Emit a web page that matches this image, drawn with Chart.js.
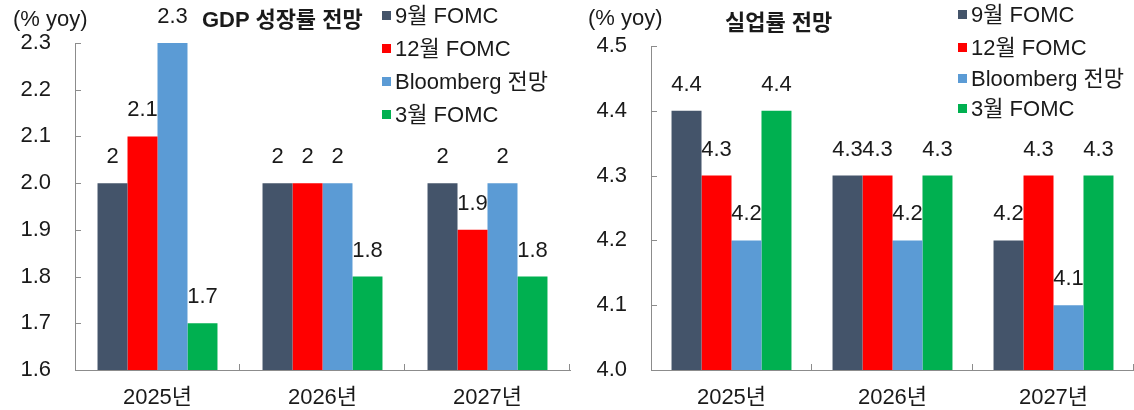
<!DOCTYPE html>
<html>
<head>
<meta charset="utf-8">
<script src="https://cdn.jsdelivr.net/npm/chart.js@4/dist/chart.umd.min.js"></script>
<style>
  html, body { margin: 0; padding: 0; background: #fff; }
  body { width: 1134px; height: 410px; position: relative; overflow: hidden;
         font-family: "Liberation Sans", "Noto Sans CJK KR", sans-serif; color: #1a1a1a; }
  canvas { position: absolute; top: 0; }
  .txt { position: absolute; font-size: 22px; line-height: 22px; white-space: nowrap; }
  .title { font-weight: bold; }
  .leg { position: absolute; font-size: 22px; line-height: 22px; white-space: nowrap; color: #1a1a1a; }
  .leg i { display: inline-block; width: 9px; height: 9px; margin-right: 4px; vertical-align: 3px; }
</style>
</head>
<body>
<canvas id="c1" width="580" height="410" style="left:0px"></canvas>
<canvas id="c2" width="554" height="410" style="left:580px"></canvas>

<div class="txt" style="left:13px; top:8px;">(% yoy)</div>
<div class="txt title" style="left:202px; top:9px;">GDP 성장률 전망</div>
<div class="txt" style="left:588px; top:7px;">(% yoy)</div>
<div class="txt title" style="left:725px; top:12px;">실업률 전망</div>
<div id="leg1"></div>
<div id="leg2"></div>

<script>
// ---- Data ----
const categories = ['2025년', '2026년', '2027년'];
const seriesNames = ['9월 FOMC', '12월 FOMC', 'Bloomberg 전망', '3월 FOMC'];
const seriesColors = ['#44546A', '#FF0000', '#5B9BD5', '#00B050'];

const gdpSepFomc = [2.0, 2.0, 2.0];
const gdpDecFomc = [2.1, 2.0, 1.9];
const gdpBloomberg = [2.3, 2.0, 2.0];
const gdpMarFomc = [1.7, 1.8, 1.8];

const unempSepFomc = [4.4, 4.3, 4.2];
const unempDecFomc = [4.3, 4.3, 4.3];
const unempBloomberg = [4.2, 4.2, 4.1];
const unempMarFomc = [4.4, 4.3, 4.3];

const gdpAxis = [1.6, 2.3, 0.1];
const unempAxis = [4.0, 4.5, 0.1];

const FONT = '"Liberation Sans", "Noto Sans CJK KR", sans-serif';
const AXIS_COLOR = '#8c8c8c';
const TEXT_COLOR = '#1a1a1a';

// ---- Legends (HTML) ----
function buildLegend(id, left, tops) {
  const el = document.getElementById(id);
  seriesNames.forEach((n, i) => {
    const d = document.createElement('div');
    d.className = 'leg';
    d.style.left = left + 'px';
    d.style.top = (tops[i] - 11) + 'px';
    d.innerHTML = '<i style="background:' + seriesColors[i] + '"></i>' + n;
    el.appendChild(d);
  });
}
buildLegend('leg1', 382, [16, 49, 82, 115]);
buildLegend('leg2', 958, [15, 48, 79, 109]);

// ---- Plugin: inward tick marks + value labels ----
const decorPlugin = {
  id: 'decor',
  afterDatasetsDraw(chart) {
    const ctx = chart.ctx;
    const area = chart.chartArea;
    const ys = chart.scales.y, xs = chart.scales.x;
    ctx.save();
    ctx.strokeStyle = AXIS_COLOR;
    ctx.lineWidth = 1;
    ctx.beginPath();
    ys.ticks.forEach((t, i) => {
      const y = Math.round(ys.getPixelForTick(i)) + 0.5;
      ctx.moveTo(area.left, y);
      ctx.lineTo(area.left + 6, y);
    });
    const n = chart.data.labels.length;
    const w = (area.right - area.left) / n;
    for (let i = 1; i <= n; i++) {
      const x = Math.round(area.left + w * i) - 0.5;
      ctx.moveTo(x, area.bottom);
      ctx.lineTo(x, area.bottom - 6);
    }
    ctx.stroke();

    ctx.fillStyle = TEXT_COLOR;
    ctx.font = '22px ' + FONT;
    ctx.textAlign = 'center';
    ctx.textBaseline = 'middle';
    chart.data.datasets.forEach((ds, di) => {
      const meta = chart.getDatasetMeta(di);
      meta.data.forEach((bar, j) => {
        ctx.fillText(String(ds.data[j]), bar.x, bar.y - 26);
      });
    });
    ctx.restore();
  }
};

function makeChart(id, series, axis, catPct, padTop, padRight, yWidth) {
  return new Chart(document.getElementById(id), {
    type: 'bar',
    data: {
      labels: categories,
      datasets: series.map((d, i) => ({
        label: seriesNames[i],
        data: d,
        backgroundColor: seriesColors[i],
        borderWidth: 0,
        barPercentage: 1.0,
        categoryPercentage: catPct
      }))
    },
    options: {
      responsive: false,
      animation: false,
      devicePixelRatio: 1,
      layout: { padding: { top: padTop, right: padRight, left: 0, bottom: 0 } },
      plugins: { legend: { display: false }, tooltip: { enabled: false }, title: { display: false } },
      scales: {
        x: {
          grid: { display: false, drawTicks: false },
          border: { display: true, color: AXIS_COLOR, width: 1 },
          ticks: { color: TEXT_COLOR, font: { family: FONT, size: 22 }, padding: 15, maxRotation: 0 },
          afterFit(s) { s.height = 40; }
        },
        y: {
          min: axis[0], max: axis[1],
          grid: { display: false, drawTicks: false },
          border: { display: true, color: AXIS_COLOR, width: 1 },
          ticks: {
            stepSize: axis[2],
            color: TEXT_COLOR,
            font: { family: FONT, size: 22 },
            padding: 24,
            callback: (v) => Number(v).toFixed(1)
          },
          afterFit(s) { s.width = yWidth; }
        }
      }
    },
    plugins: [decorPlugin]
  });
}

makeChart('c1', [gdpSepFomc, gdpDecFomc, gdpBloomberg, gdpMarFomc], gdpAxis, 0.727, 43, 10, 75);
makeChart('c2', [unempSepFomc, unempDecFomc, unempBloomberg, unempMarFomc], unempAxis, 0.745, 46, 0, 71);
</script>
</body>
</html>
